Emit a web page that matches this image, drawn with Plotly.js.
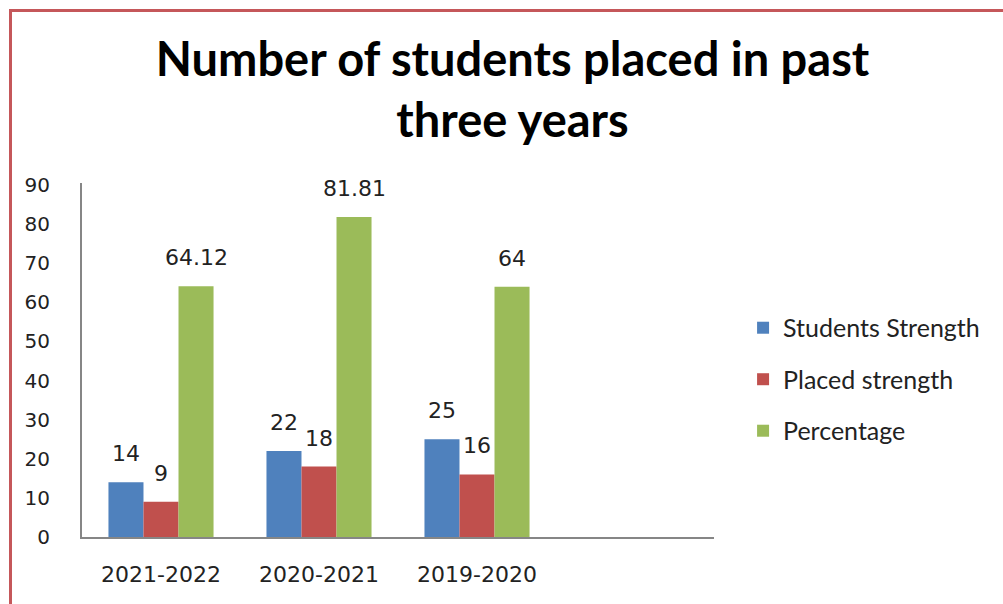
<!DOCTYPE html>
<html>
<head>
<meta charset="utf-8">
<script src="https://cdn.plot.ly/plotly-3.0.1.min.js"></script>
<style>
  html, body { margin: 0; padding: 0; background: #fff; overflow: hidden; }
  #wrap { position: relative; width: 1003px; height: 604px; }
  #chart { position: absolute; left: 0; top: 0; width: 1003px; height: 604px; }
  #frame { position: absolute; left: 9px; top: 9px; width: 1100px; height: 700px;
           border: 3px solid #c5575a; pointer-events: none; }
</style>
</head>
<body>
<div id="wrap">
  <div id="chart"></div>
  <div id="frame"></div>
</div>
<script>
const categories = ["2021-2022", "2020-2021", "2019-2020"];
const studentsStrength = [14, 22, 25];
const placedStrength = [9, 18, 16];
const percentage = [64.12, 81.81, 64];
const seriesNames = ["Students Strength", "Placed strength", "Percentage"];
const yTicks = [0, 10, 20, 30, 40, 50, 60, 70, 80, 90];

const colors = ["#4f81bd", "#c0504d", "#9bbb59"];
const allSeries = [studentsStrength, placedStrength, percentage];

const traces = allSeries.map((vals, i) => ({
  type: "bar",
  name: seriesNames[i],
  x: categories,
  y: vals,
  marker: { color: colors[i] },
  legendgroup: "g" + i,
  hoverinfo: "skip"
}));

// data labels placed just above each bar
const barPx = 35;
const annotations = [];
allSeries.forEach((vals, i) => {
  vals.forEach((v, j) => {
    annotations.push({
      x: categories[j], y: v, xref: "x", yref: "y",
      text: String(v), showarrow: false,
      xshift: (i - 1) * barPx, yshift: 14,
      yanchor: "bottom", xanchor: "center",
      font: { family: "DejaVu Sans", size: 22, color: "#222" }
    });
  });
});

const layout = {
  width: 1003, height: 604,
  paper_bgcolor: "rgba(0,0,0,0)", plot_bgcolor: "rgba(0,0,0,0)",
  margin: { l: 82, r: 289, t: 183, b: 67 },
  title: {
    text: "Number of students placed in past<br>three years",
    font: { family: "Lato", size: 47, color: "#000", weight: "bold" },
    x: 0.511, xanchor: "center", xref: "container",
    y: 0.874, yanchor: "middle", yref: "container"
  },
  barmode: "group", bargap: 0.335, bargroupgap: 0,
  xaxis: {
    type: "category", categoryorder: "array", categoryarray: categories,
    range: [-0.5, 3.5],
    showline: true, linecolor: "#868686", linewidth: 2,
    ticks: "", showgrid: false, zeroline: false,
    tickfont: { family: "DejaVu Sans", size: 22, color: "#222" },
    ticklabelstandoff: 17
  },
  yaxis: {
    range: [0, 90.5], tickvals: yTicks,
    showline: true, linecolor: "#868686", linewidth: 2,
    ticks: "", showgrid: false, zeroline: false,
    tickfont: { family: "DejaVu Sans", size: 20, color: "#222" },
    ticklabelstandoff: 26
  },
  legend: {
    x: 1.046, xanchor: "left", y: 0.445, yanchor: "middle",
    font: { family: "Lato", size: 25, color: "#222" },
    tracegroupgap: 16, traceorder: "grouped",
    bgcolor: "rgba(0,0,0,0)"
  },
  showlegend: true,
  annotations: annotations
};

Plotly.newPlot("chart", traces, layout, { staticPlot: true, displayModeBar: false });
</script>
</body>
</html>
